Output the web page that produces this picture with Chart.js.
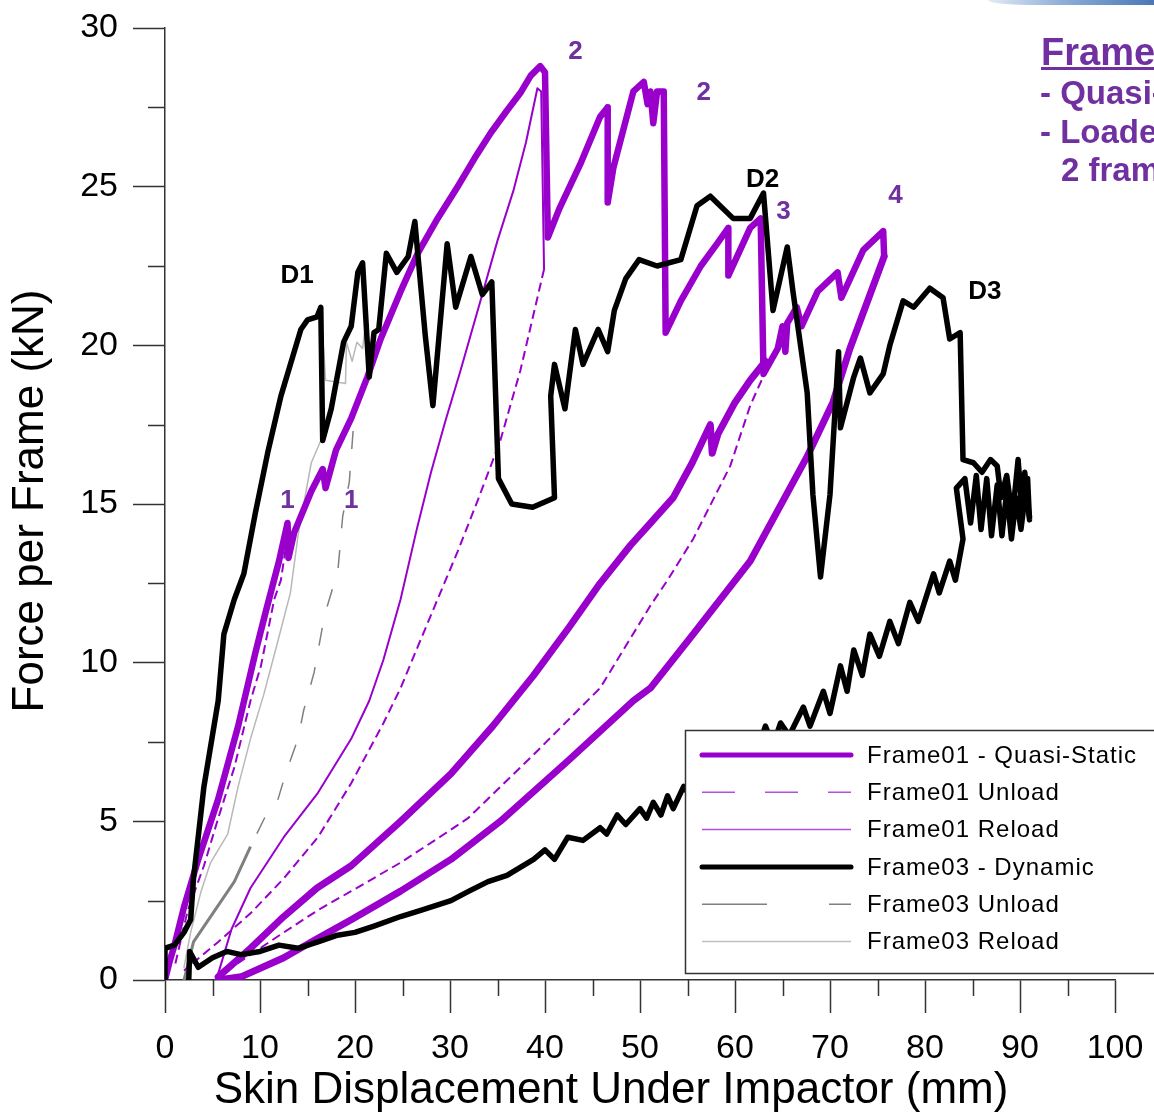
<!DOCTYPE html>
<html>
<head>
<meta charset="utf-8">
<script src="https://cdn.jsdelivr.net/npm/chart.js@4.4.1/dist/chart.umd.min.js"></script>
<style>
  html, body { margin: 0; padding: 0; background: #fff; overflow: hidden; }
  #wrap { position: relative; width: 1154px; height: 1117px; overflow: hidden; }
  .note { position: absolute; color: #7030a0; font-family: 'Liberation Sans', Arial, sans-serif; font-weight: bold; white-space: nowrap; }
  #bar { position: absolute; left: 988px; top: 0; width: 180px; height: 5px; background: linear-gradient(90deg, #e3ebf5, #8fb0d8 40%, #3f6fb3); border-bottom-left-radius: 40px 5px; }
</style>
</head>
<body>
<div id="wrap">
  <canvas id="chart" width="1154" height="1117"></canvas>
  <div id="bar"></div>
  <div class="note" style="left:1041px;top:29px;font-size:38px;line-height:46px;text-decoration:underline;">Frame01</div>
  <div class="note" style="left:1040px;top:74px;font-size:33px;line-height:38px;">- Quasi-Static</div>
  <div class="note" style="left:1040px;top:113px;font-size:33px;line-height:38px;">- Loaded</div>
  <div class="note" style="left:1061px;top:151px;font-size:33px;line-height:38px;">2 frames</div>
</div>
<script>
// axis ticks
const xTicks = [0, 10, 20, 30, 40, 50, 60, 70, 80, 90, 100];
const yTicks = [0, 5, 10, 15, 20, 25, 30];

// Frame01 quasi-static, main loading path (peaks 1,2,3 then on to 4)
const qsMainX = [0, 0.5, 1, 2, 3.5, 5.6, 7.7, 9.5, 10.6, 12.0, 12.9, 13.0, 13.6, 15.4, 16.6, 16.9, 18.0, 19.6, 21.3, 22.7, 24.8, 26.6, 28.7, 30.8, 32.6, 34.3, 36.0, 37.4, 38.5, 39.5, 40.0, 40.3, 41.5, 43.7, 45.8, 46.6, 46.6, 47.2, 49.3, 50.4, 50.8, 51.1, 51.4, 51.8, 52.5, 52.7, 54.3, 56.4, 58.1, 59.3, 59.3, 61.6, 62.7, 63.0, 64.5, 65.0, 65.3, 65.5, 66.5, 67.0, 68.7, 70.8, 71.2, 73.5, 75.6, 75.7];
const qsMainY = [0, 0.6, 1.1, 2.3, 3.8, 5.7, 8.0, 10.3, 11.6, 13.2, 14.4, 13.3, 14.1, 15.4, 16.1, 15.5, 16.7, 17.7, 19.0, 20.2, 21.7, 22.9, 24.0, 25.0, 25.9, 26.7, 27.4, 27.95, 28.5, 28.8, 28.6, 23.4, 24.3, 25.7, 27.2, 27.5, 24.5, 25.6, 28.0, 28.3, 27.6, 28.0, 27.0, 28.0, 28.0, 20.4, 21.4, 22.5, 23.2, 23.7, 22.2, 23.7, 24.0, 19.1, 19.9, 20.6, 19.8, 20.7, 21.2, 20.6, 21.7, 22.3, 21.5, 23.0, 23.6, 22.8];
// Frame01 quasi-static, return branch after 4
const qsBackX = [75.7, 72.1, 70.3, 67.6, 61.6, 55.6, 51.1, 49.3, 42.4, 35.3, 30.1, 24.8, 19.6, 16.0, 12.5, 8.0, 5.6];
const qsBackY = [22.8, 19.9, 18.2, 16.5, 13.2, 10.9, 9.2, 8.8, 6.9, 5.0, 3.8, 2.8, 1.9, 1.3, 0.7, 0.1, 0.0];
// Frame01 quasi-static, reloading after 3
const qsLoad3X = [5.6, 9.0, 12.5, 16.0, 19.6, 24.8, 30.1, 34.5, 38.8, 42.5, 45.8, 49.0, 51.1, 53.5, 55.5, 57.4, 57.6, 58.2, 60.0, 61.6, 63.2];
const qsLoad3Y = [0.1, 1.0, 2.0, 2.9, 3.6, 5.0, 6.5, 8.0, 9.6, 11.1, 12.5, 13.7, 14.4, 15.2, 16.3, 17.5, 16.6, 17.2, 18.2, 18.9, 19.5];

// Frame01 unload curves (dashed)
const unload1X = [12.9, 12.2, 11.5, 10.1, 9.0, 7.3, 5.6, 4.1, 2.4, 1.0];
const unload1Y = [14.0, 12.6, 12.0, 9.9, 8.8, 6.7, 5.1, 3.6, 2.2, 0.4];
const unload2X = [39.9, 38.5, 37.4, 35.3, 32.9, 30.8, 28.7, 26.6, 24.8, 23.0, 19.6, 16.1, 12.5, 9.0, 5.6, 2.0];
const unload2Y = [22.4, 20.6, 19.2, 17.0, 15.1, 13.5, 12.0, 10.5, 9.2, 8.1, 6.2, 4.5, 3.2, 2.1, 1.2, 0.3];
const unload3X = [62.8, 61.6, 59.5, 55.6, 52.9, 51.1, 45.8, 38.8, 31.9, 29.4, 24.8, 19.6, 16.1, 12.5, 9.0, 5.6];
const unload3Y = [18.9, 18.1, 16.2, 13.9, 12.6, 11.8, 9.2, 7.1, 5.1, 4.6, 3.7, 2.8, 2.2, 1.5, 0.8, 0.1];
// Frame01 reload (thin)
const reload2X = [5.6, 7.0, 9.0, 12.5, 16.1, 19.6, 21.5, 23.0, 24.8, 26.5, 28.0, 29.5, 31.1, 33.2, 35.0, 36.7, 38.0, 39.2, 39.6, 39.9];
const reload2Y = [0.2, 1.6, 2.9, 4.5, 5.9, 7.6, 8.8, 10.1, 12.0, 14.2, 16.0, 17.6, 19.2, 21.4, 23.3, 24.9, 26.4, 28.1, 28.0, 22.4];

// Frame03 dynamic, loading path D1 - D2 - D3
const dynMainX = [0, 0, 1.0, 2.0, 2.7, 3.0, 4.1, 5.6, 6.2, 7.3, 8.3, 9.5, 10.8, 12.2, 14.3, 15.0, 16.0, 16.4, 16.6, 17.5, 18.8, 19.6, 20.3, 20.8, 21.5, 22.0, 22.5, 23.3, 24.4, 25.6, 26.3, 27.4, 28.2, 29.7, 30.6, 32.2, 33.4, 34.4, 35.1, 36.5, 38.7, 41.0, 40.6, 41.0, 42.1, 43.2, 44.0, 45.6, 46.6, 47.3, 48.5, 49.9, 51.8, 54.3, 56.0, 57.4, 59.8, 61.6, 63.0, 64.0, 65.5, 66.1, 67.6, 68.2, 69.0, 70.0, 70.9, 71.1, 72.5, 73.2, 74.2, 75.6, 76.3, 77.7, 78.8, 80.5, 81.9, 82.6, 83.7, 84.0, 85.1, 86.0, 86.9, 87.6, 88.0, 88.6, 89.2, 89.8, 90.2, 90.5, 91.0, 90.8];
const dynMainY = [0, 1.0, 1.1, 1.5, 1.9, 3.2, 6.1, 8.8, 10.9, 12.0, 12.8, 14.7, 16.6, 18.4, 20.5, 20.8, 20.9, 21.2, 17.0, 18.0, 20.1, 20.6, 22.3, 22.6, 19.0, 20.4, 20.5, 22.9, 22.3, 22.8, 23.9, 20.3, 18.1, 23.2, 21.2, 22.8, 21.6, 22.0, 15.8, 15.0, 14.9, 15.2, 18.4, 19.4, 18.0, 20.5, 19.4, 20.5, 19.8, 21.1, 22.1, 22.7, 22.5, 22.7, 24.4, 24.7, 24.0, 24.0, 24.8, 21.1, 23.1, 21.7, 18.5, 15.3, 12.7, 15.3, 19.8, 17.4, 19.0, 19.6, 18.5, 19.1, 20.0, 21.4, 21.2, 21.8, 21.5, 20.2, 20.4, 16.4, 16.3, 16.0, 16.4, 16.2, 15.2, 15.9, 14.6, 16.4, 14.8, 16.0, 14.5, 15.8];
// Frame03 dynamic, low return branch (oscillating), ending in the tangle near 85-91 mm
const dynLowX = [2.5, 2.6, 3.5, 5.0, 6.5, 8.0, 10.0, 12.0, 14.0, 16.1, 18.0, 20.0, 22.0, 24.8, 27.0, 30.1, 32.0, 34.0, 36.0, 38.8, 40.0, 41.0, 42.4, 44.0, 45.8, 46.5, 47.6, 48.5, 50.0, 50.7, 51.4, 52.2, 52.9, 53.5, 54.6, 55.5, 56.3, 57.0, 58.0, 58.7, 59.8, 60.5, 61.5, 62.2, 63.2, 64.0, 64.8, 65.7, 67.2, 67.9, 69.3, 70.0, 71.1, 71.8, 72.5, 73.4, 74.2, 75.2, 76.3, 77.2, 78.4, 79.3, 80.9, 81.5, 82.6, 83.2, 84.0, 83.3, 84.2, 84.8, 85.4, 85.9, 86.5, 87.0, 87.6, 88.1, 88.6, 89.1, 89.6, 90.1, 90.6, 91.0];
const dynLowY = [0.0, 0.9, 0.4, 0.7, 0.9, 0.8, 0.9, 1.1, 1.0, 1.2, 1.4, 1.5, 1.7, 2.0, 2.2, 2.5, 2.8, 3.1, 3.3, 3.8, 4.1, 3.8, 4.5, 4.4, 4.8, 4.6, 5.2, 4.9, 5.4, 5.1, 5.6, 5.2, 5.8, 5.4, 6.1, 5.7, 6.5, 6.1, 6.9, 6.4, 7.3, 6.8, 7.6, 7.1, 8.0, 7.4, 8.1, 7.7, 8.6, 8.0, 9.1, 8.4, 9.9, 9.1, 10.4, 9.6, 10.9, 10.2, 11.3, 10.6, 11.9, 11.3, 12.8, 12.2, 13.2, 12.6, 13.9, 15.5, 15.8, 14.4, 15.9, 14.2, 15.8, 14.0, 15.6, 14.0, 15.4, 13.9, 15.2, 14.2, 15.4, 14.6];
// Frame03 unload / reload
const f03UnloadX = [19.8, 19.4, 18.7, 18.2, 16.8, 15.7, 14.6, 14.0, 12.7, 11.9, 10.8, 9.0, 7.3, 4.8, 3.0, 2.0];
const f03UnloadY = [17.3, 15.7, 14.6, 12.9, 11.5, 9.7, 8.5, 7.6, 6.5, 5.7, 5.3, 4.2, 3.1, 2.0, 1.2, 0.0];
const f03ReloadX = [2.0, 2.7, 3.8, 4.8, 6.6, 7.7, 9.0, 10.4, 11.9, 13.2, 14.0, 15.4, 16.4, 16.7, 16.9, 19.0, 19.1, 19.7, 20.2, 20.8, 21.0];
const f03ReloadY = [0.4, 1.5, 2.8, 3.7, 4.6, 6.1, 7.6, 9.0, 10.7, 12.2, 14.0, 16.3, 17.0, 19.9, 18.9, 18.8, 20.1, 19.5, 20.1, 19.9, 20.4];

// event labels
const annText = ['2', '2', 'D2', '3', '4', 'D1', 'D3', '1', '1'];
const annX = [43.2, 56.7, 62.9, 65.1, 76.9, 13.9, 86.3, 12.9, 19.6];
const annY = [29.25, 27.96, 25.2, 24.2, 24.7, 22.2, 21.7, 15.1, 15.1];
const annColor = ['#7030a0', '#7030a0', '#000', '#7030a0', '#7030a0', '#000', '#000', '#7030a0', '#7030a0'];

const legendNames = ['Frame01 - Quasi-Static', 'Frame01 Unload', 'Frame01 Reload', 'Frame03 - Dynamic', 'Frame03 Unload', 'Frame03 Reload'];

const PURPLE = '#9900cc';
const FONT = "'Liberation Sans', Arial, sans-serif";

function pts(xs, ys) {
  return xs.map((x, i) => ({x: x, y: ys[i]}));
}
function series(xs, ys, color, width, dash, order) {
  return {
    data: pts(xs, ys), showLine: true, pointRadius: 0, fill: false, tension: 0,
    borderColor: color, borderWidth: width, borderDash: dash || [],
    borderJoinStyle: 'round', borderCapStyle: dash ? 'butt' : 'round', order: order
  };
}

const f03Unload = series(f03UnloadX, f03UnloadY, '#808080', 1.5, [18, 22], 5);
f03Unload.segment = {
  borderDash: ctx => ctx.p0.parsed.y < 4.3 ? [] : undefined,
  borderWidth: ctx => ctx.p0.parsed.y < 4.3 ? 3 : undefined
};

const datasets = [
  series(dynMainX, dynMainY, '#000', 5.5, null, 0),
  series(dynLowX, dynLowY, '#000', 5.5, null, 0),
  series(qsMainX, qsMainY, PURPLE, 6.5, null, 2),
  series(qsBackX, qsBackY, PURPLE, 7, null, 2),
  series(qsLoad3X, qsLoad3Y, PURPLE, 7, null, 2),
  series(unload1X, unload1Y, PURPLE, 2, [9, 5], 3),
  series(unload2X, unload2Y, PURPLE, 2, [9, 5], 3),
  series(unload3X, unload3Y, PURPLE, 2, [9, 5], 3),
  series(reload2X, reload2Y, PURPLE, 2, null, 3),
  f03Unload,
  series(f03ReloadX, f03ReloadY, '#b8b8b8', 1.5, null, 4)
];

const overlay = {
  id: 'overlay',
  afterDatasetsDraw(chart) {
    const ctx = chart.ctx;
    const xs = chart.scales.x, ys = chart.scales.y;
    ctx.save();
    // minor ticks
    ctx.strokeStyle = '#333';
    ctx.lineWidth = 1.5;
    ctx.beginPath();
    for (let i = 0; i < xTicks.length - 1; i++) {
      const px = Math.round(xs.getPixelForValue((xTicks[i] + xTicks[i + 1]) / 2)) + 0.5;
      ctx.moveTo(px, ys.bottom);
      ctx.lineTo(px, ys.bottom + 16);
    }
    for (let i = 0; i < yTicks.length - 1; i++) {
      const py = Math.round(ys.getPixelForValue((yTicks[i] + yTicks[i + 1]) / 2)) + 0.5;
      ctx.moveTo(xs.left - 17, py);
      ctx.lineTo(xs.left, py);
    }
    ctx.stroke();

    // event labels
    ctx.font = 'bold 26px ' + FONT;
    ctx.textAlign = 'center';
    ctx.textBaseline = 'middle';
    annText.forEach((t, i) => {
      ctx.fillStyle = annColor[i];
      ctx.fillText(t, xs.getPixelForValue(annX[i]), ys.getPixelForValue(annY[i]));
    });

    // legend box
    const lx = 685, ly = 730;
    ctx.fillStyle = '#fff';
    ctx.fillRect(lx, ly, 480, 243);
    ctx.strokeStyle = '#333';
    ctx.lineWidth = 1.5;
    ctx.strokeRect(lx + 0.5, ly + 0.5, 480, 243);
    const styles = [
      {c: PURPLE, w: 5, d: []},
      {c: '#b050e0', w: 1.5, d: [33, 30]},
      {c: '#b050e0', w: 1.5, d: []},
      {c: '#000', w: 5, d: []},
      {c: '#808080', w: 1.5, d: [65, 62]},
      {c: '#c0c0c0', w: 1.5, d: []}
    ];
    ctx.font = '24px ' + FONT;
    ctx.textAlign = 'left';
    if ('letterSpacing' in ctx) ctx.letterSpacing = '1px';
    styles.forEach((s, i) => {
      const y = 755 + i * 37.3;
      ctx.beginPath();
      ctx.strokeStyle = s.c;
      ctx.lineWidth = s.w;
      ctx.lineCap = s.w > 2 ? 'round' : 'butt';
      ctx.setLineDash(s.d);
      ctx.moveTo(702, y);
      ctx.lineTo(851, y);
      ctx.stroke();
      ctx.setLineDash([]);
      ctx.fillStyle = '#000';
      ctx.fillText(legendNames[i], 867, y + 1);
    });
    if ('letterSpacing' in ctx) ctx.letterSpacing = '0px';

    // axis titles
    ctx.fillStyle = '#000';
    ctx.font = '44px ' + FONT;
    ctx.textAlign = 'center';
    ctx.fillText('Skin Displacement Under Impactor (mm)', 611, 1091);
    ctx.translate(31, 501);
    ctx.rotate(-Math.PI / 2);
    ctx.fillText('Force per Frame (kN)', 0, 0);
    ctx.restore();
  }
};

new Chart(document.getElementById('chart'), {
  type: 'scatter',
  data: {datasets: datasets},
  plugins: [overlay],
  options: {
    responsive: false,
    animation: false,
    devicePixelRatio: 1,
    layout: {padding: {top: 28, right: 39, left: 0, bottom: 0}},
    plugins: {legend: {display: false}, tooltip: {enabled: false}},
    scales: {
      x: {
        type: 'linear', min: xTicks[0], max: xTicks[xTicks.length - 1],
        afterBuildTicks: s => { s.ticks = xTicks.map(v => ({value: v})); },
        afterFit: s => { s.height = 137; s.paddingLeft = 0; s.paddingRight = 0; },
        grid: {drawOnChartArea: false, drawTicks: true, tickLength: 33, tickColor: '#333', tickWidth: 1.5},
        border: {display: true, color: '#333', width: 1.5},
        ticks: {color: '#000', font: {family: FONT, size: 34}, padding: 15, maxRotation: 0, autoSkip: false}
      },
      y: {
        type: 'linear', min: yTicks[0], max: yTicks[yTicks.length - 1],
        afterBuildTicks: s => { s.ticks = yTicks.map(v => ({value: v})); },
        afterFit: s => { s.width = 165; s.paddingTop = 0; s.paddingBottom = 0; },
        grid: {drawOnChartArea: false, drawTicks: true, tickLength: 32, tickColor: '#333', tickWidth: 1.5},
        border: {display: true, color: '#333', width: 1.5},
        ticks: {color: '#000', font: {family: FONT, size: 34}, padding: 15}
      }
    }
  }
});
</script>
</body>
</html>
